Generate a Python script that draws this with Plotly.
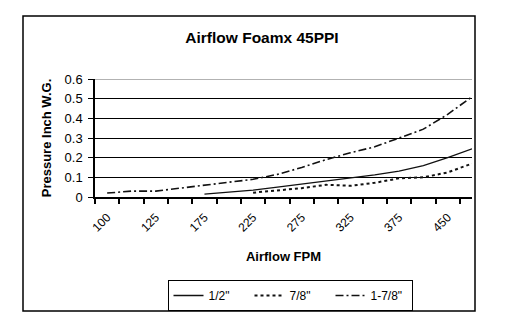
import plotly.graph_objects as go

# Airflow categories (FPM); only every other one is labelled on the chart
airflow_fpm = ["100", "110", "125", "150", "175", "200", "225", "250",
               "275", "300", "325", "350", "375", "400", "450", "500"]

# Pressure drop (inch W.G.) per foam thickness
half_inch = [None, None, None, None, 0.015, 0.025, 0.035, 0.05,
             0.065, 0.08, 0.095, 0.112, 0.132, 0.16, 0.20, 0.245]
seven_eighths = [None, None, None, None, None, None, 0.022, 0.033,
                 0.045, 0.062, 0.057, 0.072, 0.095, 0.10, 0.125, 0.17]
one_seven_eighths = [0.02, 0.03, 0.03, 0.045, 0.06, 0.075, 0.09, 0.115,
                     0.15, 0.19, 0.225, 0.255, 0.30, 0.345, 0.42, 0.51]

y_ticks = [0, 0.1, 0.2, 0.3, 0.4, 0.5, 0.6]
y_tick_labels = ["0", "0.1", "0.2", "0.3", "0.4", "0.5", "0.6"]

idx = list(range(len(airflow_fpm)))
label_idx = idx[::2]
label_text = [airflow_fpm[i] for i in label_idx]

FONT = "Liberation Sans, Arial, sans-serif"

fig = go.Figure()
fig.add_trace(go.Scatter(x=idx, y=half_inch, mode="lines", name='1/2"',
                         line=dict(color="#111111", width=1.3, dash="solid")))
fig.add_trace(go.Scatter(x=idx, y=seven_eighths, mode="lines", name='7/8"',
                         line=dict(color="#111111", width=2, dash="dot")))
fig.add_trace(go.Scatter(x=idx, y=one_seven_eighths, mode="lines", name='1-7/8"',
                         line=dict(color="#111111", width=1.6,
                                   dash="8px,3px,2px,3px")))

fig.update_layout(
    width=508, height=332,
    margin=dict(l=95, r=36, t=79, b=135),
    paper_bgcolor="white", plot_bgcolor="white",
    font=dict(family=FONT, color="black", size=12),
    title=dict(text="<b>Airflow Foamx 45PPI</b>", x=262 / 508, xanchor="center",
               y=1 - 38 / 332, yanchor="middle", font=dict(size=15.5, family=FONT)),
    showlegend=True,
    legend=dict(orientation="h", xref="container", yref="container",
                x=290 / 508, xanchor="center", y=1 - 280 / 332, yanchor="top",
                bordercolor="black", borderwidth=1, font=dict(size=12),
                entrywidth=36, entrywidthmode="pixels",
                itemwidth=30, tracegroupgap=0),
    xaxis=dict(range=[-0.5, 15.0], tickmode="array", tickvals=label_idx,
               ticktext=label_text, tickangle=-45, ticks="",
               ticklabelstandoff=7,
               showgrid=False, zeroline=False, showline=True,
               linecolor="black", linewidth=1.5,
               tickfont=dict(size=12),
               minor=dict(tickmode="linear", tick0=-0.5, dtick=1,
                          ticks="outside", ticklen=5, tickcolor="black",
                          tickwidth=1.5, showgrid=False),
               title=dict(text="<b>Airflow FPM</b>", font=dict(size=13),
                          standoff=18)),
    yaxis=dict(range=[0, 0.6], tickmode="array", tickvals=y_ticks,
               ticktext=y_tick_labels, ticks="outside", ticklen=5,
               ticklabelstandoff=3,
               tickcolor="black", showgrid=True, gridcolor="black",
               gridwidth=1.2, zeroline=False, showline=True,
               linecolor="black", linewidth=1.5, tickfont=dict(size=13),
               title=dict(text="<b>Pressure Inch W.G.</b>", font=dict(size=13),
                          standoff=10)),
)

# top gridline drawn in grey as in the reference
fig.add_shape(type="line", xref="paper", yref="y", x0=0, x1=1, y0=0.6, y1=0.6,
              line=dict(color="#999999", width=1.5), layer="above")
# outer chart frame
fig.add_shape(type="rect", xref="paper", yref="paper",
              x0=(23 - 95) / 377, x1=(475 - 95) / 377,
              y0=(197 - 311) / 118, y1=(197 - 16) / 118,
              line=dict(color="black", width=1.5), fillcolor="rgba(0,0,0,0)")

fig.write_html("out.html")
